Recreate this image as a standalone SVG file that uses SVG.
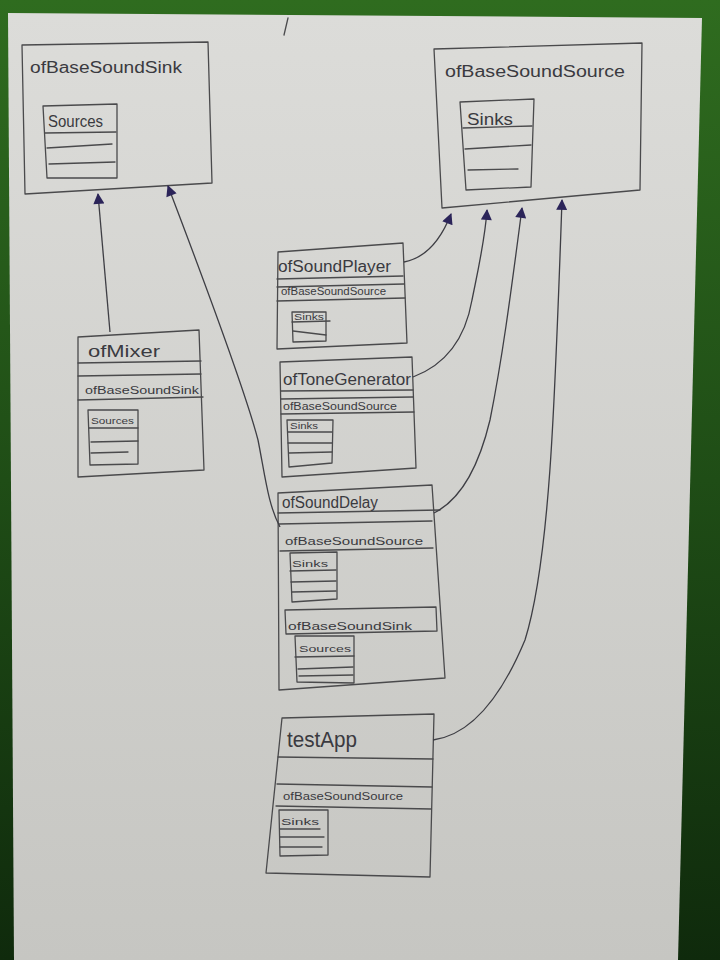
<svg xmlns="http://www.w3.org/2000/svg" width="720" height="960" viewBox="0 0 720 960">
<defs>
<linearGradient id="bg" x1="0" y1="0" x2="0" y2="1">
<stop offset="0" stop-color="#2f6c1f"/>
<stop offset="0.5" stop-color="#1f4d16"/>
<stop offset="1" stop-color="#0f2a0c"/>
</linearGradient>
<linearGradient id="paper" x1="0" y1="0" x2="0" y2="1">
<stop offset="0" stop-color="#dcdcd9"/>
<stop offset="1" stop-color="#c6c6c2"/>
</linearGradient>
<marker id="tri" viewBox="0 0 10 10" refX="9" refY="5" markerUnits="userSpaceOnUse" markerWidth="13" markerHeight="11" orient="auto">
<path d="M0,0 L10,5 L0,10 z" fill="#2b2459"/>
</marker>
<style>
.ink{fill:none;stroke:#4a4a4c;stroke-width:1.3;stroke-linejoin:round;stroke-linecap:round}
.con{fill:none;stroke:#3e3e44;stroke-width:1.3;marker-end:url(#tri)}
text{font-family:"Liberation Sans","DejaVu Sans",sans-serif;fill:#3a3a40}
.t1{font-size:16px}
.t2{font-size:10px}
.t3{font-size:9px}
</style>
</defs>
<rect x="0" y="0" width="720" height="960" fill="url(#bg)"/>
<polygon points="8,13 702,18 678,960 14,960" fill="url(#paper)"/>
<path class="ink" d="M288,18 L284,35"/>

<g id="ofBaseSoundSink">
<polygon class="ink" points="22,45 208,42 212,183 25,194"/>
<text class="t1" x="30" y="73" textLength="152" lengthAdjust="spacingAndGlyphs">ofBaseSoundSink</text>
<polygon class="ink" points="43,106 117,104 117,178 47,178"/>
<text class="t1" x="48" y="127" textLength="55" lengthAdjust="spacingAndGlyphs">Sources</text>
<path class="ink" d="M45,133 L116,132 M47,148 L112,144 M49,164 L115,162"/>
</g>

<g id="ofBaseSoundSource">
<polygon class="ink" points="434,49 642,43 640,190 442,208"/>
<text class="t1" x="445" y="77" textLength="180" lengthAdjust="spacingAndGlyphs">ofBaseSoundSource</text>
<polygon class="ink" points="460,102 534,99 531,187 466,190"/>
<text class="t1" x="467" y="125" textLength="46" lengthAdjust="spacingAndGlyphs">Sinks</text>
<path class="ink" d="M463,128 L532,126 M465,149 L531,145 M468,170 L518,169"/>
</g>

<g id="ofSoundPlayer">
<polygon class="ink" points="278,252 403,243 407,343 277,349"/>
<text class="t1" x="278" y="272" textLength="113" lengthAdjust="spacingAndGlyphs">ofSoundPlayer</text>
<path class="ink" d="M277,279 L403,276 M277,287 L404,284 M277,301 L405,298"/>
<text class="t2" x="281" y="295" textLength="105" lengthAdjust="spacingAndGlyphs">ofBaseSoundSource</text>
<polygon class="ink" points="292,312 326,312 326,341 293,342"/>
<text class="t3" x="294" y="320" textLength="30" lengthAdjust="spacingAndGlyphs">Sinks</text>
<path class="ink" d="M292,322 L330,321 M293,331 L326,335"/>
</g>

<g id="ofToneGenerator">
<polygon class="ink" points="280,362 412,357 416,468 282,477"/>
<text class="t1" x="283" y="385" textLength="128" lengthAdjust="spacingAndGlyphs">ofToneGenerator</text>
<path class="ink" d="M281,391 L413,390 M281,399 L413,397 M281,414 L414,412"/>
<text class="t2" x="283" y="410" textLength="114" lengthAdjust="spacingAndGlyphs">ofBaseSoundSource</text>
<polygon class="ink" points="287,420 333,420 332,463 289,467"/>
<text class="t3" x="290" y="429" textLength="28" lengthAdjust="spacingAndGlyphs">Sinks</text>
<path class="ink" d="M288,432 L332,432 M288,443 L332,443 M289,453 L332,452"/>
</g>

<g id="ofMixer">
<polygon class="ink" points="78,337 199,330 204,470 78,477"/>
<text class="t1" x="88" y="357" textLength="72" lengthAdjust="spacingAndGlyphs">ofMixer</text>
<path class="ink" d="M78,363 L201,361 M78,376 L201,374 M78,400 L203,397"/>
<text class="t2" x="85" y="394" textLength="114" lengthAdjust="spacingAndGlyphs">ofBaseSoundSink</text>
<polygon class="ink" points="88,410 138,410 138,464 90,465"/>
<text class="t3" x="91" y="424" textLength="43" lengthAdjust="spacingAndGlyphs">Sources</text>
<path class="ink" d="M89,428 L138,428 M91,442 L138,441 M91,453 L128,452"/>
</g>

<g id="ofSoundDelay">
<polygon class="ink" points="278,493 432,485 445,678 279,690"/>
<text class="t1" x="282" y="508" textLength="96" lengthAdjust="spacingAndGlyphs">ofSoundDelay</text>
<path class="ink" d="M278,513 L440,510 M279,524 L432,521 M280,551 L433,548"/>
<text class="t2" x="285" y="545" textLength="138" lengthAdjust="spacingAndGlyphs">ofBaseSoundSource</text>
<polygon class="ink" points="290,553 337,552 337,599 292,602"/>
<text class="t3" x="292" y="567" textLength="36" lengthAdjust="spacingAndGlyphs">Sinks</text>
<path class="ink" d="M290,571 L336,570 M291,582 L336,581 M292,592 L336,591"/>
<polygon class="ink" points="285,610 436,607 437,631 286,634"/>
<text class="t2" x="288" y="630" textLength="124" lengthAdjust="spacingAndGlyphs">ofBaseSoundSink</text>
<polygon class="ink" points="295,636 354,636 354,683 297,682"/>
<text class="t3" x="299" y="652" textLength="52" lengthAdjust="spacingAndGlyphs">Sources</text>
<path class="ink" d="M295,657 L354,656 M298,669 L353,667 M299,676 L353,675"/>
</g>

<g id="testApp">
<polygon class="ink" points="282,718 434,714 430,877 266,873"/>
<text x="287" y="747" font-size="22" textLength="70" lengthAdjust="spacingAndGlyphs">testApp</text>
<path class="ink" d="M278,757 L433,759 M277,784 L432,787 M276,806 L431,809"/>
<text class="t2" x="283" y="800" textLength="120" lengthAdjust="spacingAndGlyphs">ofBaseSoundSource</text>
<polygon class="ink" points="279,810 328,810 328,855 280,856"/>
<text class="t3" x="281" y="825" textLength="38" lengthAdjust="spacingAndGlyphs">Sinks</text>
<path class="ink" d="M280,829 L320,829 M280,837 L324,837 M280,847 L322,847"/>
</g>

<g id="connectors">
<path class="con" d="M110,332 L98,194"/>
<path class="con" d="M280,527 C268,505 265,475 258,440 C245,390 200,270 168,186"/>
<path class="con" d="M404,262 C425,258 440,242 451,214"/>
<path class="con" d="M413,377 C445,365 465,340 472,300 C478,270 485,240 487,210"/>
<path class="con" d="M434,513 C460,500 478,470 490,420 C502,360 510,300 522,208"/>
<path class="con" d="M433,740 C470,735 500,700 525,640 C550,560 555,400 562,200"/>
</g>
</svg>
